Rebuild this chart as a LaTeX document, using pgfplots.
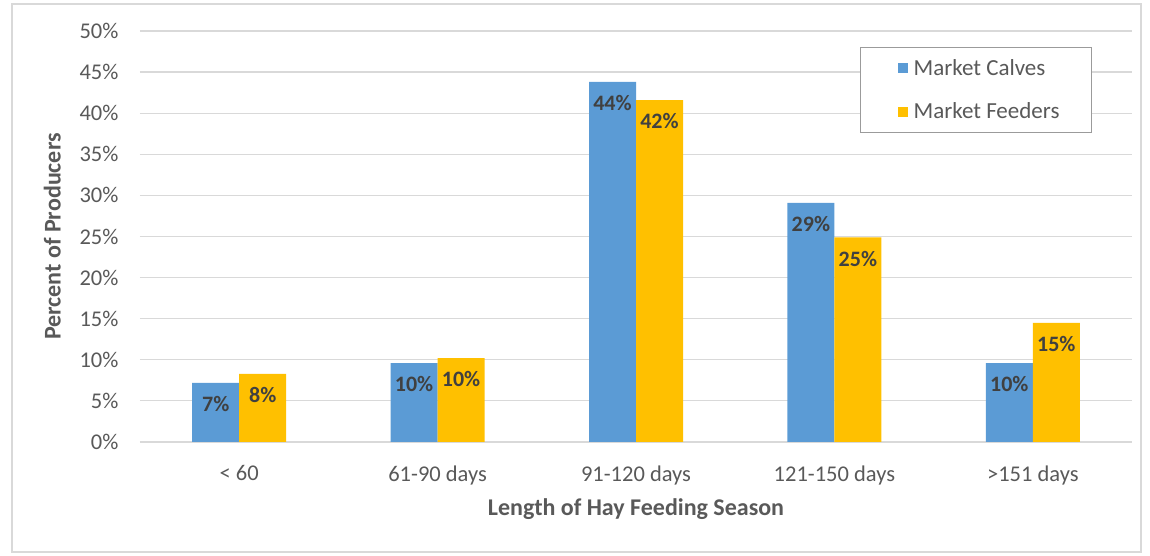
\documentclass[border=0pt]{standalone}
\usepackage{pgfplots}
\pgfplotsset{compat=1.18}
\usepackage{fontspec}
\setmainfont{Carlito}

\definecolor{calves}{HTML}{5B9BD5}
\definecolor{feeders}{HTML}{FFC000}
\definecolor{txt}{HTML}{595959}
\definecolor{gridc}{HTML}{D9D9D9}

\begin{document}
\begin{tikzpicture}
\path (-140pt,-114pt) rectangle (1010pt,442pt);
\draw[gridc, line width=1.2pt] (-128pt,-110pt) rectangle (1001pt,438pt);
\begin{axis}[
    at={(0pt,0pt)}, anchor=south west,
    scale only axis,
    width=992pt, height=411pt,
    xmin=-0.5, xmax=4.5,
    ymin=0, ymax=50,
    ybar, bar width=47pt,
    xtick={0,1,2,3,4},
    xticklabels={{< 60},{61-90 days},{91-120 days},{121-150 days},{>151 days}},
    ytick={0,5,...,50},
    yticklabel={\pgfmathprintnumber{\tick}\%},
    /pgf/number format/assume math mode=true,
    ymajorgrids=true,
    grid style={gridc, line width=1.2pt},
    axis lines*=left,
    y axis line style={draw=none},
    x axis line style={gridc, line width=1.2pt, -},
    major tick length=0pt,
    tick label style={font=\fontsize{22.5}{26}\selectfont, text=txt},
    yticklabel style={xshift=-18pt},
    xticklabel style={yshift=-20pt},
    xlabel={\textbf{Length of Hay Feeding Season}},
    ylabel={\textbf{Percent of Producers}},
    label style={font=\fontsize{24}{28}\selectfont, text=txt},
    xlabel style={yshift=-7pt},
    ylabel style={yshift=12pt},
    nodes near coords={\pgfmathprintnumber[fixed,precision=0]{\pgfplotspointmeta}\%},
    every node near coord/.append style={anchor=north, yshift=-10pt,
        font=\fontsize{22}{26}\selectfont\bfseries, text=black!75},
    legend style={at={(0.726,0.961)}, anchor=north west, draw=txt!60, line width=0.8pt,
        font=\fontsize{23}{27}\selectfont, text=txt,
        inner xsep=30pt, inner ysep=10pt, row sep=22pt},
    legend cell align=left,
    legend image code/.code={\path (0pt,0pt) (21pt,0pt); \fill[#1] (7pt,-5pt) rectangle (17pt,5pt);},
]
\addplot[fill=calves, draw=none, bar shift=-23.5pt] coordinates {(0,7.2) (1,9.6) (2,43.8) (3,29.1) (4,9.6)};
\addplot[fill=feeders, draw=none, bar shift=23.5pt] coordinates {(0,8.3) (1,10.2) (2,41.6) (3,24.9) (4,14.5)};
\legend{Market Calves, Market Feeders}
\end{axis}
\end{tikzpicture}
\end{document}
